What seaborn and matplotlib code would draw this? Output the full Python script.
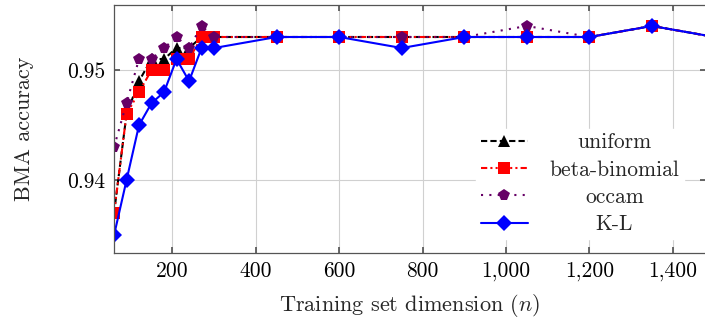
import numpy as np
import pandas as pd
import seaborn as sns
import matplotlib.pyplot as plt
from matplotlib.ticker import FuncFormatter

# data
n_vals = [60, 90, 120, 150, 180, 210, 240, 270, 300, 450, 600, 750, 900, 1050, 1200, 1350, 1500]
uniform = [0.937, 0.946, 0.949, 0.951, 0.951, 0.952, 0.952, 0.953, 0.953, 0.953, 0.953, 0.953, 0.953, 0.953, 0.953, 0.954, 0.953]
beta_binomial = [0.937, 0.946, 0.948, 0.950, 0.950, 0.951, 0.951, 0.953, 0.953, 0.953, 0.953, 0.953, 0.953, 0.953, 0.953, 0.954, 0.953]
occam = [0.943, 0.947, 0.951, 0.951, 0.952, 0.953, 0.952, 0.954, 0.953, 0.953, 0.953, 0.953, 0.953, 0.954, 0.953, 0.954, 0.953]
kl = [0.935, 0.940, 0.945, 0.947, 0.948, 0.951, 0.949, 0.952, 0.952, 0.953, 0.953, 0.952, 0.953, 0.953, 0.953, 0.954, 0.953]
labels = ["uniform", "beta-binomial", "occam", "K-L"]

df = pd.concat([
    pd.DataFrame({"n": n_vals, "acc": vals, "prior": lab})
    for lab, vals in zip(labels, [uniform, beta_binomial, occam, kl])
])

sns.set_theme(style="whitegrid")
plt.rcParams['font.family'] = ['cmr10', 'DejaVu Serif']
plt.rcParams['mathtext.fontset'] = 'cm'
plt.rcParams['axes.formatter.use_mathtext'] = True

fig = plt.figure(figsize=(7.05, 3.25), dpi=100)
ax = fig.add_axes([0.1617, 0.2215, 0.84, 0.763])

palette = {"uniform": "black", "beta-binomial": "#ff0000", "occam": "#660066", "K-L": "#0000ff"}
markers = {"uniform": "^", "beta-binomial": "s", "occam": "p", "K-L": "D"}
dashes = {"uniform": (3, 1.5), "beta-binomial": (3, 1.5, 1, 1.5, 1, 1.5),
          "occam": (1, 3), "K-L": ""}

sns.lineplot(data=df, x="n", y="acc", hue="prior", style="prior",
             palette=palette, markers=markers, dashes=dashes,
             hue_order=labels, style_order=labels,
             linewidth=1.5, markersize=8.5, markeredgewidth=0, ax=ax)

ax.set_xlim(60, 1480)
ax.set_ylim(0.9334, 0.9559)
ax.set_xticks([200, 400, 600, 800, 1000, 1200, 1400])
ax.set_yticks([0.94, 0.95])
ax.xaxis.set_major_formatter(FuncFormatter(lambda v, p: f"{int(v):,}"))
ax.yaxis.set_major_formatter(FuncFormatter(lambda v, p: f"{v:.2f}"))
ax.grid(True, color="#d0d0d0", linewidth=0.8)
for s in ax.spines.values():
    s.set_color("#555555")
    s.set_linewidth(0.9)
ax.tick_params(axis="both", direction="in", length=4, color="#555555",
               labelsize=15.5, labelcolor="black", pad=6, top=True, right=True, bottom=True, left=True)

ax.set_xlabel("Training set dimension ($n$)", fontsize=16, labelpad=8)
ax.set_ylabel("BMA accuracy", fontsize=16, labelpad=24)

handles, labs = ax.get_legend_handles_labels()
leg = ax.legend(handles, labs, loc="upper right", bbox_to_anchor=(0.98, 0.545),
                fontsize=15.5, frameon=True, fancybox=False, framealpha=1,
                edgecolor="white", handlelength=2.2, borderpad=0.2, labelspacing=0.36,
                handletextpad=1.0)

# center legend labels like the reference
fig.canvas.draw()
r = fig.canvas.get_renderer()
texts = leg.get_texts()
widths = [t.get_window_extent(r).width for t in texts]
wmax = max(widths)
for t, w in zip(texts, widths):
    t.set_position(((wmax - w) / 2, 0))

fig.savefig("out.png", dpi=100)
